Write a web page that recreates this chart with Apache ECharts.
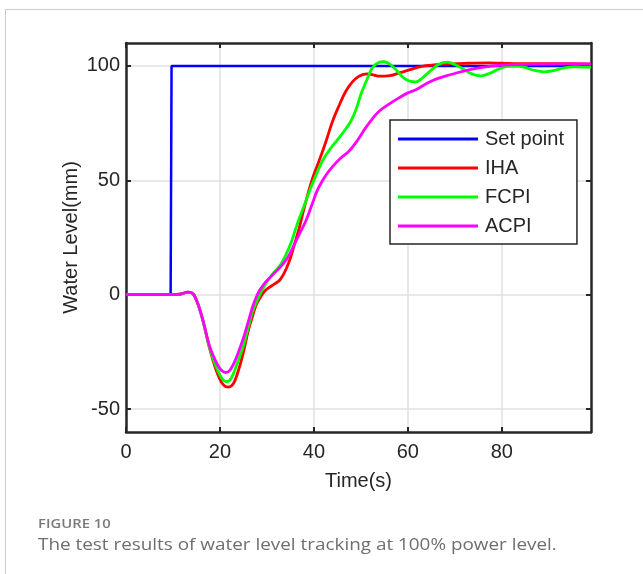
<!DOCTYPE html>
<html>
<head>
<meta charset="utf-8">
<script src="https://cdn.jsdelivr.net/npm/echarts@6/dist/echarts.min.js"></script>
<style>
html,body{margin:0;padding:0;background:#fff;}
#chart{width:643px;height:574px;}
</style>
</head>
<body>
<div id="chart"></div>
<script>
// ---- data ----
const seriesNames = ['Set point', 'IHA', 'FCPI', 'ACPI'];
const xTicks = [0, 20, 40, 60, 80];
const yTicks = [-50, 0, 50, 100];

const setPoint = [[0,0],[9.5,0],[9.7,100],[99,100]];

const iha = [[0,0],[10,0],[11.5,0.2],[13.2,1.1],[14.3,0.3],[15.3,-4],[16.4,-11.5],[17.8,-23.5],[19.2,-33],[20.5,-38.8],[21.7,-40.4],[22.8,-39],[23.8,-34],[24.9,-26],[26,-16],[27,-9],[27.7,-4.5],[28.5,-1.5],[29.5,1.5],[30.5,3.2],[31.5,4.5],[32.7,6.3],[33.7,9.5],[34.8,14.8],[35.8,21.5],[36.9,29.3],[38,38.5],[39,46],[40,52.5],[41.1,58.4],[42.5,66.5],[44,75.9],[45.4,82.8],[46.8,88.9],[48.2,93],[49.6,95.5],[51.4,96.5],[52.8,96],[53.9,95.5],[55,95.5],[56.5,95.8],[58,96.8],[60,98],[61.5,99],[63,99.8],[65.5,100.4],[68,100.8],[72,101.1],[77,101.3],[82,101.1],[88,101],[93,101],[99,100.8]];

const fcpi = [[0,0],[10,0],[11.5,0.2],[13.2,1.1],[14.3,0.3],[15.3,-4],[16.4,-11.5],[17.8,-23.2],[19.2,-31.5],[20.4,-36.5],[21.4,-38],[22.4,-36.5],[23.5,-31],[24.9,-23],[26,-14.5],[27,-7],[28.4,-0.4],[29.5,4],[31.2,9],[32.7,12.5],[34.1,17.7],[35.2,23],[36.2,29.3],[37.3,35.5],[38.3,41],[39.2,46],[40.1,50.5],[41.8,58.4],[43.5,63.8],[45.4,68.6],[46.8,72.5],[47.9,75.9],[49,81],[50,87.5],[51.2,93.5],[52.4,99.1],[53.6,101.3],[54.9,101.8],[56,101],[57.4,98.5],[58.5,96],[59.5,94.2],[60.6,93.2],[61.7,93],[63,94.5],[64.5,97.3],[66.5,100.6],[68.5,101.6],[70,100.6],[71.5,99],[73.5,96.6],[75.5,95.6],[77.5,96.8],[79.5,98.8],[81.5,99.9],[83,100],[85,99.3],[87,98],[89,97.4],[91,97.9],[93,99],[95,99.6],[97,99.5],[99,99.4]];

const acpi = [[0,0],[10,0],[11.5,0.2],[13.2,1.1],[14.3,0.3],[15.3,-4],[16.4,-11.3],[17.8,-22.5],[19.2,-29.5],[20.2,-32.8],[21.2,-34],[22.2,-32.8],[23.5,-27.5],[24.9,-19.5],[26,-12],[27,-5],[27.7,-1.2],[28.4,1.7],[29.5,5],[30.5,7.2],[32,10.3],[33.4,13.4],[34.5,16.5],[35.5,20.6],[36.9,26.5],[38.3,32.3],[39.7,40],[40.7,45.5],[41.8,49.7],[43,53.5],[44,56],[45.5,59.3],[47.5,62.8],[49.3,67.5],[51,72.9],[52.5,77],[53.9,80.2],[56,83.3],[58.1,86],[60,88.2],[61.7,89.6],[64,92.3],[66,94.2],[68,95.5],[70.5,97],[73,98.3],[75.1,99.1],[78.6,100.1],[83.6,100.6],[88,100.8],[93,100.9],[99,100.9]];

const seriesColors = ['#0000ff', '#ff0000', '#00ff00', '#ff00ff'];
const seriesData = [setPoint, iha, fcpi, acpi];

// ---- chart ----
const chart = echarts.init(document.getElementById('chart'), null, {renderer: 'canvas'});
const axisColor = '#262626';
const fontFam = '"Liberation Sans", Arial, Helvetica, sans-serif';
const gridColor = '#e0e0e0';

function xAxisCfg(top) {
  return {
    type: 'value', min: 0, max: 99, position: top ? 'top' : 'bottom',
    name: top ? '' : 'Time(s)', nameLocation: 'middle', nameGap: 39, nameMoveOverlap: false,
    nameTextStyle: {fontFamily: fontFam, fontSize: 20, color: axisColor},
    axisLine: {show: true, onZero: false, lineStyle: {color: axisColor, width: 2.5}},
    axisTick: {show: true, inside: true, length: 5, customValues: xTicks, lineStyle: {color: axisColor, width: 2}},
    axisLabel: {show: !top, fontFamily: fontFam, fontSize: 20, color: axisColor, margin: 10, customValues: xTicks},
    splitLine: {show: !top, lineStyle: {color: gridColor, width: 1.5}}
  };
}
function yAxisCfg(right) {
  return {
    type: 'value', min: -60, max: 110, position: right ? 'right' : 'left',
    name: right ? '' : 'Water Level(mm)', nameLocation: 'middle', nameGap: 45, nameMoveOverlap: false,
    nameTextStyle: {fontFamily: fontFam, fontSize: 20, color: axisColor},
    axisLine: {show: true, onZero: false, lineStyle: {color: axisColor, width: 2.5}},
    axisTick: {show: true, inside: true, length: 5, customValues: yTicks, lineStyle: {color: axisColor, width: 2}},
    axisLabel: {show: !right, fontFamily: fontFam, fontSize: 20, color: axisColor, margin: 6, customValues: yTicks},
    splitLine: {show: !right, lineStyle: {color: gridColor, width: 1.5}}
  };
}

const option = {
  animation: false,
  backgroundColor: '#ffffff',
  grid: {left: 126, top: 43, right: 52, bottom: 142, containLabel: false},
  legend: {
    show: true,
    data: seriesNames,
    orient: 'vertical',
    left: 390,
    top: 120,
    icon: 'rect',
    itemWidth: 80,
    itemHeight: 3,
    itemGap: 9,
    padding: [9, 13, 8, 8],
    backgroundColor: '#ffffff',
    borderColor: axisColor,
    borderWidth: 1.5,
    borderRadius: 0,
    textStyle: {fontFamily: fontFam, fontSize: 20, color: axisColor, lineHeight: 20, padding: [0, 0, 0, 2]}
  },
  xAxis: [xAxisCfg(false), xAxisCfg(true)],
  yAxis: [yAxisCfg(false), yAxisCfg(true)],
  series: seriesNames.map((name, i) => ({
    name: name,
    type: 'line',
    xAxisIndex: 0,
    yAxisIndex: 0,
    data: seriesData[i],
    showSymbol: false,
    symbol: 'none',
    smooth: i === 0 ? false : 0.35,
    clip: true,
    lineStyle: {color: seriesColors[i], width: i === 0 ? 2.5 : 2.8},
    itemStyle: {color: seriesColors[i]},
    z: 2 + i
  })),
  graphic: [
    {type: 'polyline', shape: {points: [[5.5, 574], [5.5, 9.5], [643, 9.5]]}, style: {stroke: '#cccccc', lineWidth: 1, fill: null}, silent: true},
    {type: 'text', x: 38, y: 524, scaleX: 1.14, style: {text: 'FIGURE 10', x: 0, y: 0, verticalAlign: 'middle', fill: '#7a7a7a', font: '600 13px "Open Sans", Lato, sans-serif'}},
    {type: 'text', x: 38, y: 545, scaleX: 1.18, style: {text: 'The test results of water level tracking at 100% power level.', x: 0, y: 0, verticalAlign: 'middle', fill: '#6e6e6e', font: '16px "Open Sans", Lato, sans-serif'}}
  ]
};
chart.setOption(option);
</script>
</body>
</html>
